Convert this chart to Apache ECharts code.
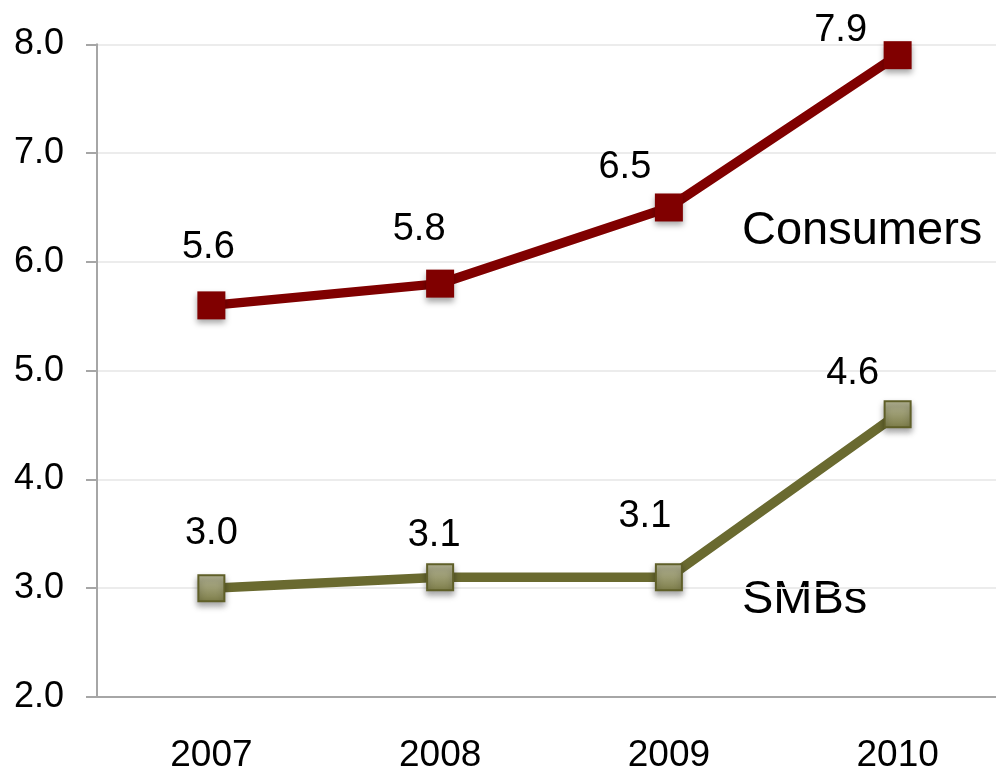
<!DOCTYPE html>
<html>
<head>
<meta charset="utf-8">
<script src="https://cdn.jsdelivr.net/npm/echarts@6/dist/echarts.min.js"></script>
<style>
html,body{margin:0;padding:0;background:#fff;}
#c{width:996px;height:770px;}
</style>
</head>
<body>
<div id="c"></div>
<script>
var years = ['2007', '2008', '2009', '2010'];
var consumers = [5.6, 5.8, 6.5, 7.9];
var smbs = [3.0, 3.1, 3.1, 4.6];
var yTicks = { min: 2, max: 8, interval: 1 };
var seriesNames = ['Consumers', 'SMBs'];

// label placement (styling, relative to marker centre)
var consumerLabelOffsets = [[-3, -58], [-21, -54], [-44, -40], [-57, -25]];
var smbLabelOffsets = [[0, -55], [-6, -42], [-24, -61], [-45, -41]];

var font = '"Liberation Sans", Arial, Helvetica, sans-serif';

function withLabels(values, offsets) {
  return values.map(function (v, i) {
    return { value: v, label: { offset: offsets[i] } };
  });
}

var chart = echarts.init(document.getElementById('c'), null, { renderer: 'canvas' });

var smbFill = new echarts.graphic.LinearGradient(0, 0, 0, 1, [
  { offset: 0, color: '#b9b99a' },
  { offset: 1, color: '#7d7d48' }
]);

chart.setOption({
  animation: false,
  backgroundColor: '#ffffff',
  grid: { left: 97, width: 915, top: 44.3, height: 652.7, containLabel: false, outerBoundsMode: 'none' },
  xAxis: {
    type: 'category',
    data: years,
    boundaryGap: true,
    axisLine: { lineStyle: { color: '#a6a6a6', width: 2 } },
    axisTick: { length: 12, lineStyle: { color: '#a6a6a6', width: 2 } },
    axisLabel: { color: '#000', fontSize: 37, fontFamily: font, margin: 40 },
    splitLine: { show: false }
  },
  yAxis: {
    type: 'value',
    min: yTicks.min, max: yTicks.max, interval: yTicks.interval,
    axisLine: { show: true, lineStyle: { color: '#a6a6a6', width: 2 } },
    axisTick: { show: true, length: 11, lineStyle: { color: '#a6a6a6', width: 2 } },
    axisLabel: {
      color: '#000', fontSize: 36, fontFamily: font, margin: 33,
      formatter: function (v) { return v.toFixed(1); }
    },
    splitLine: { lineStyle: { color: '#ececec', width: 2 } }
  },
  series: [
    {
      name: seriesNames[0],
      type: 'line',
      data: withLabels(consumers, consumerLabelOffsets),
      symbol: 'rect',
      symbolSize: 28,
      lineStyle: { color: '#800000', width: 9.5 },
      itemStyle: {
        color: '#800000',
        shadowColor: 'rgba(0,0,0,0.35)', shadowBlur: 6, shadowOffsetY: 4
      },
      label: {
        show: true, position: 'inside', color: '#000',
        fontSize: 38, fontFamily: font,
        formatter: function (p) { return p.value.toFixed(1); }
      },
      z: 3
    },
    {
      name: seriesNames[1],
      type: 'line',
      data: withLabels(smbs, smbLabelOffsets),
      symbol: 'rect',
      symbolSize: 26,
      lineStyle: { color: '#6a6a30', width: 9.5 },
      itemStyle: {
        color: smbFill, borderColor: '#5f5f28', borderWidth: 2,
        shadowColor: 'rgba(0,0,0,0.35)', shadowBlur: 6, shadowOffsetY: 4
      },
      label: {
        show: true, position: 'inside', color: '#000',
        fontSize: 38, fontFamily: font,
        formatter: function (p) { return p.value.toFixed(1); }
      },
      z: 3
    }
  ],
  graphic: [
    {
      type: 'text', x: 742, y: 231,
      style: { text: seriesNames[0], fill: '#000', fontSize: 47, fontFamily: font, verticalAlign: 'middle', align: 'left' }
    },
    {
      type: 'text', x: 742, y: 600,
      style: { text: seriesNames[1], fill: '#000', fontSize: 47, fontFamily: font, verticalAlign: 'middle', align: 'left' }
    }
  ]
});
</script>
</body>
</html>
